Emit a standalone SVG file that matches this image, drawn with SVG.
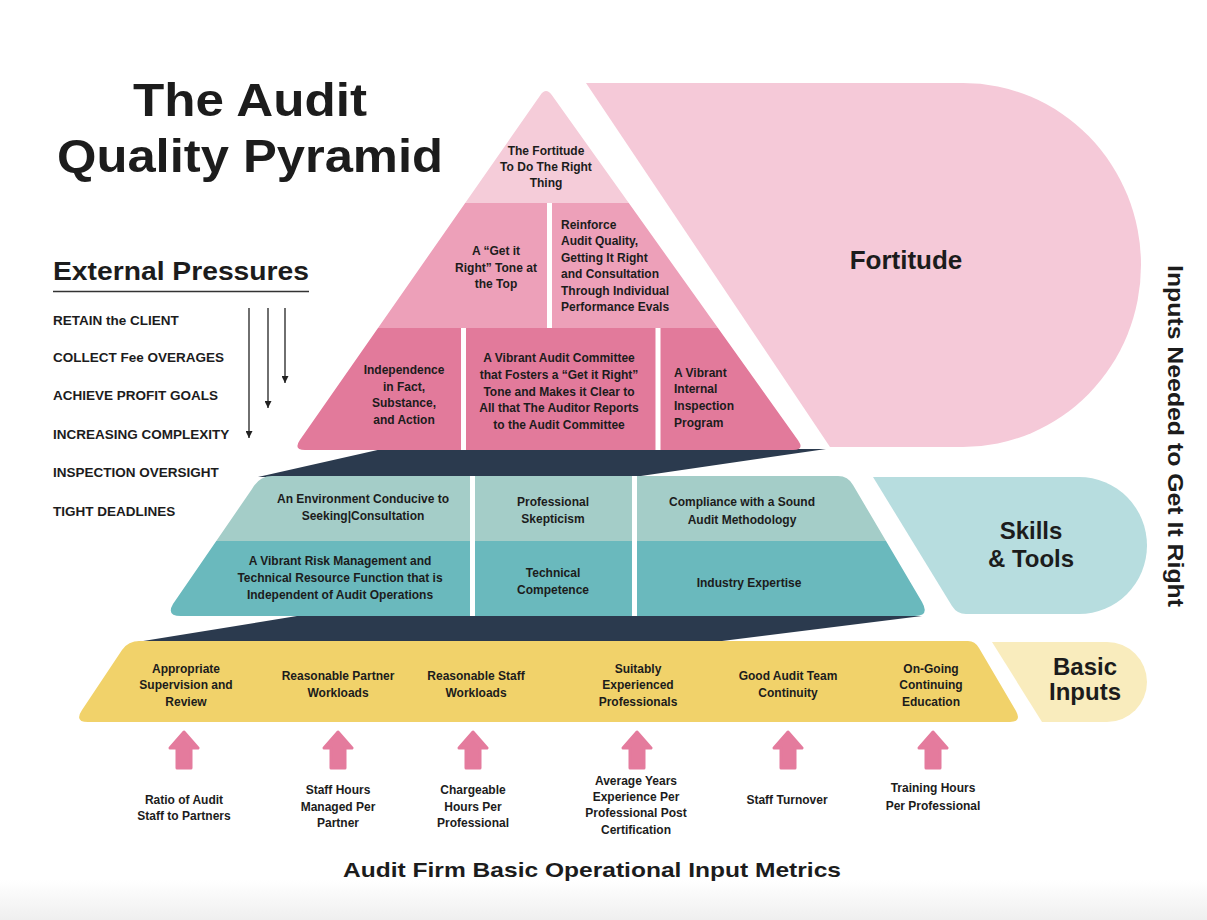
<svg xmlns="http://www.w3.org/2000/svg" width="1207" height="920" viewBox="0 0 1207 920">
  <defs>
    <style>
      .t { font-family: "Liberation Sans", Arial, sans-serif; font-weight: 700; fill: #1c1c1c; }
      .s { font-size: 12px; }
      .m { font-size: 13.5px; }
      .c { text-anchor: middle; }
      .div { fill: #ffffff; }
      .dark { fill: #2b3a4e; }
      .press { stroke: #222; stroke-width: 1.3; fill: none; marker-end: url(#ah); }
      .up { fill: #e47b9d; stroke: #e47b9d; stroke-width: 3; stroke-linejoin: round; }
    </style>
    <marker id="ah" viewBox="0 0 10 10" refX="10" refY="5" markerWidth="7" markerHeight="7" markerUnits="userSpaceOnUse" orient="auto">
      <path d="M0,0 L10,5 L0,10 Z" fill="#222"/>
    </marker>
    <path id="uparrow" d="M0,-17 L14,-1 L7,-1 L7,19 L-7,19 L-7,-1 L-14,-1 Z"/>
    <clipPath id="pyr">
      <path d="M540.3,95.2 Q546,87 551.8,95.1 L798,440.2 Q805,450 793,450 L305,450 Q293,450 299.9,440.1 Z"/>
    </clipPath>
    <clipPath id="midband">
      <path d="M252,489 Q259,476 272,476 L838,476 Q848,476 853,485 L922,602 Q930,616 915,616 L181,616 Q166,616 173,604 Z"/>
    </clipPath>
    <linearGradient id="floor" x1="0" y1="0" x2="0" y2="1">
      <stop offset="0" stop-color="#ffffff"/>
      <stop offset="1" stop-color="#efefef"/>
    </linearGradient>
  </defs>

  <rect x="0" y="0" width="1207" height="920" fill="#ffffff"/>
  <rect x="0" y="880" width="1207" height="40" fill="url(#floor)"/>

  <!-- Title -->
  <g id="title">
    <text class="t" x="250" y="116" text-anchor="middle" font-size="47" textLength="234" lengthAdjust="spacingAndGlyphs">The Audit</text>
    <text class="t" x="250" y="172" text-anchor="middle" font-size="47" textLength="386" lengthAdjust="spacingAndGlyphs">Quality Pyramid</text>
  </g>

  <!-- External pressures list -->
  <g id="external-pressures">
    <text class="t" x="53" y="280" font-size="26" textLength="256" lengthAdjust="spacingAndGlyphs">External Pressures</text>
    <line x1="53" y1="291.5" x2="309" y2="291.5" stroke="#333" stroke-width="1.5"/>
    <text class="t m" x="53" y="325">RETAIN the CLIENT</text>
    <text class="t m" x="53" y="362">COLLECT Fee OVERAGES</text>
    <text class="t m" x="53" y="400">ACHIEVE PROFIT GOALS</text>
    <text class="t m" x="53" y="439">INCREASING COMPLEXITY</text>
    <text class="t m" x="53" y="477">INSPECTION OVERSIGHT</text>
    <text class="t m" x="53" y="516">TIGHT DEADLINES</text>
  </g>

  <!-- Shadow layers beneath each level -->
  <g id="shadows">
    <polygon class="dark" points="382,449 826,449 634,477 258,477"/>
    <polygon class="dark" points="297,616 922,616 714,642 137,642"/>
  </g>

  <!-- Fortitude side panel -->
  <g id="fortitude">
    <path d="M586,83 L963,83 A178,182 0 0 1 963,447 L830,447 Z" fill="#f5c9d8"/>
    <text class="t c" x="906" y="269" font-size="26">Fortitude</text>
  </g>

  <!-- Top pyramid -->
  <g id="pyramid" clip-path="url(#pyr)">
    <rect x="280" y="80" width="540" height="123" fill="#f5ccd9"/>
    <rect x="280" y="203" width="540" height="125" fill="#eda0b9"/>
    <rect x="280" y="328" width="540" height="125" fill="#e27a9b"/>
    <rect class="div" x="547" y="203" width="5" height="125"/>
    <rect class="div" x="461" y="328" width="5" height="125"/>
    <rect class="div" x="655.5" y="328" width="5" height="125"/>
  </g>

  <g id="fortitude-to-do-right">
    <text class="t s c" x="546"><tspan x="546" y="155">The Fortitude</tspan><tspan x="546" y="171">To Do The Right</tspan><tspan x="546" y="187">Thing</tspan></text>
  </g>
  <g id="tone-at-top">
    <text class="t s c"><tspan x="496" y="255">A “Get it</tspan><tspan x="496" y="272">Right” Tone at</tspan><tspan x="496" y="288">the Top</tspan></text>
  </g>
  <g id="reinforce-quality">
    <text class="t s"><tspan x="561" y="229">Reinforce</tspan><tspan x="561" y="245">Audit Quality,</tspan><tspan x="561" y="262">Getting It Right</tspan><tspan x="561" y="278">and Consultation</tspan><tspan x="561" y="295">Through Individual</tspan><tspan x="561" y="311">Performance Evals</tspan></text>
  </g>
  <g id="independence">
    <text class="t s c"><tspan x="404" y="374">Independence</tspan><tspan x="404" y="391">in Fact,</tspan><tspan x="404" y="407">Substance,</tspan><tspan x="404" y="424">and Action</tspan></text>
  </g>
  <g id="audit-committee">
    <text class="t s c"><tspan x="559" y="362">A Vibrant Audit Committee</tspan><tspan x="559" y="379">that Fosters a “Get it Right”</tspan><tspan x="559" y="396">Tone and Makes it Clear to</tspan><tspan x="559" y="412">All that The Auditor Reports</tspan><tspan x="559" y="429">to the Audit Committee</tspan></text>
  </g>
  <g id="internal-inspection">
    <text class="t s"><tspan x="674" y="377">A Vibrant</tspan><tspan x="674" y="393">Internal</tspan><tspan x="674" y="410">Inspection</tspan><tspan x="674" y="427">Program</tspan></text>
  </g>

  <!-- Skills & Tools side panel -->
  <g id="skills-tools">
    <path d="M873,477 L1079,477 A68,68.5 0 0 1 1079,614 L966,614 Q957,614 952,606 Z" fill="#b7dddf"/>
    <text class="t c" font-size="24"><tspan x="1031" y="539">Skills</tspan><tspan x="1031" y="567">&amp; Tools</tspan></text>
  </g>

  <!-- Middle band -->
  <g id="middle-band" clip-path="url(#midband)">
    <rect x="160" y="470" width="780" height="71" fill="#a4cdc8"/>
    <rect x="160" y="541" width="780" height="80" fill="#6ab9bd"/>
    <rect class="div" x="470" y="470" width="5" height="150"/>
    <rect class="div" x="632" y="470" width="5" height="150"/>
  </g>
  <g id="consultation">
    <text class="t s c"><tspan x="363" y="503">An Environment Conducive to</tspan><tspan x="363" y="520">Seeking|Consultation</tspan></text>
  </g>
  <g id="skepticism">
    <text class="t s c"><tspan x="553" y="506">Professional</tspan><tspan x="553" y="523">Skepticism</tspan></text>
  </g>
  <g id="methodology">
    <text class="t s c"><tspan x="742" y="506">Compliance with a Sound</tspan><tspan x="742" y="524">Audit Methodology</tspan></text>
  </g>
  <g id="risk-management">
    <text class="t s c"><tspan x="340" y="565">A Vibrant Risk Management and</tspan><tspan x="340" y="582">Technical Resource Function that is</tspan><tspan x="340" y="599">Independent of Audit Operations</tspan></text>
  </g>
  <g id="technical-competence">
    <text class="t s c"><tspan x="553" y="577">Technical</tspan><tspan x="553" y="594">Competence</tspan></text>
  </g>
  <g id="industry-expertise">
    <text class="t s c" x="749" y="587">Industry Expertise</text>
  </g>

  <!-- Basic inputs panel -->
  <g id="basic-inputs">
    <path d="M992,642 L1107,642 A40,40 0 0 1 1107,722 L1042,722 Z" fill="#f9ecbd"/>
    <text class="t c" font-size="24"><tspan x="1085" y="675">Basic</tspan><tspan x="1085" y="700">Inputs</tspan></text>
  </g>

  <!-- Base band -->
  <g id="base-band">
    <path d="M122,650 Q128,641 140,641 L968,641 Q975,641 979,648 L1016,711 Q1022,722 1010,722 L88,722 Q74,722 82,710 Z" fill="#f1d26a"/>
  </g>
  <g id="supervision">
    <text class="t s c"><tspan x="186" y="673">Appropriate</tspan><tspan x="186" y="689">Supervision and</tspan><tspan x="186" y="706">Review</tspan></text>
  </g>
  <g id="partner-workloads">
    <text class="t s c"><tspan x="338" y="680">Reasonable Partner</tspan><tspan x="338" y="697">Workloads</tspan></text>
  </g>
  <g id="staff-workloads">
    <text class="t s c"><tspan x="476" y="680">Reasonable Staff</tspan><tspan x="476" y="697">Workloads</tspan></text>
  </g>
  <g id="experienced">
    <text class="t s c"><tspan x="638" y="673">Suitably</tspan><tspan x="638" y="689">Experienced</tspan><tspan x="638" y="706">Professionals</tspan></text>
  </g>
  <g id="continuity">
    <text class="t s c"><tspan x="788" y="680">Good Audit Team</tspan><tspan x="788" y="697">Continuity</tspan></text>
  </g>
  <g id="education">
    <text class="t s c"><tspan x="931" y="673">On-Going</tspan><tspan x="931" y="689">Continuing</tspan><tspan x="931" y="706">Education</tspan></text>
  </g>

  <!-- Connectors: pressure arrows and metric arrows -->
  <g id="connectors">
    <line class="press" x1="249" y1="308" x2="249" y2="438"/>
    <line class="press" x1="268" y1="308" x2="268" y2="408"/>
    <line class="press" x1="285" y1="308" x2="285" y2="383"/>
    <use href="#uparrow" class="up" x="184" y="749"/>
    <use href="#uparrow" class="up" x="338" y="749"/>
    <use href="#uparrow" class="up" x="473" y="749"/>
    <use href="#uparrow" class="up" x="637" y="749"/>
    <use href="#uparrow" class="up" x="788" y="749"/>
    <use href="#uparrow" class="up" x="933" y="749"/>
  </g>

  <!-- Metrics -->
  <g id="metric-ratio">
    <text class="t s c"><tspan x="184" y="804">Ratio of Audit</tspan><tspan x="184" y="820">Staff to Partners</tspan></text>
  </g>
  <g id="metric-staff-hours">
    <text class="t s c"><tspan x="338" y="794">Staff Hours</tspan><tspan x="338" y="811">Managed Per</tspan><tspan x="338" y="827">Partner</tspan></text>
  </g>
  <g id="metric-chargeable">
    <text class="t s c"><tspan x="473" y="794">Chargeable</tspan><tspan x="473" y="811">Hours Per</tspan><tspan x="473" y="827">Professional</tspan></text>
  </g>
  <g id="metric-experience">
    <text class="t s c"><tspan x="636" y="785">Average Years</tspan><tspan x="636" y="801">Experience Per</tspan><tspan x="636" y="817">Professional Post</tspan><tspan x="636" y="834">Certification</tspan></text>
  </g>
  <g id="metric-turnover">
    <text class="t s c" x="787" y="804">Staff Turnover</text>
  </g>
  <g id="metric-training">
    <text class="t s c"><tspan x="933" y="792">Training Hours</tspan><tspan x="933" y="810">Per Professional</tspan></text>
  </g>

  <g id="metrics-caption">
    <text class="t c" x="592" y="877" font-size="21" textLength="498" lengthAdjust="spacingAndGlyphs">Audit Firm Basic Operational Input Metrics</text>
  </g>

  <g id="side-caption">
    <text class="t c" font-size="22" transform="translate(1168,436) rotate(90)" textLength="342" lengthAdjust="spacingAndGlyphs">Inputs Needed to Get It Right</text>
  </g>
</svg>
